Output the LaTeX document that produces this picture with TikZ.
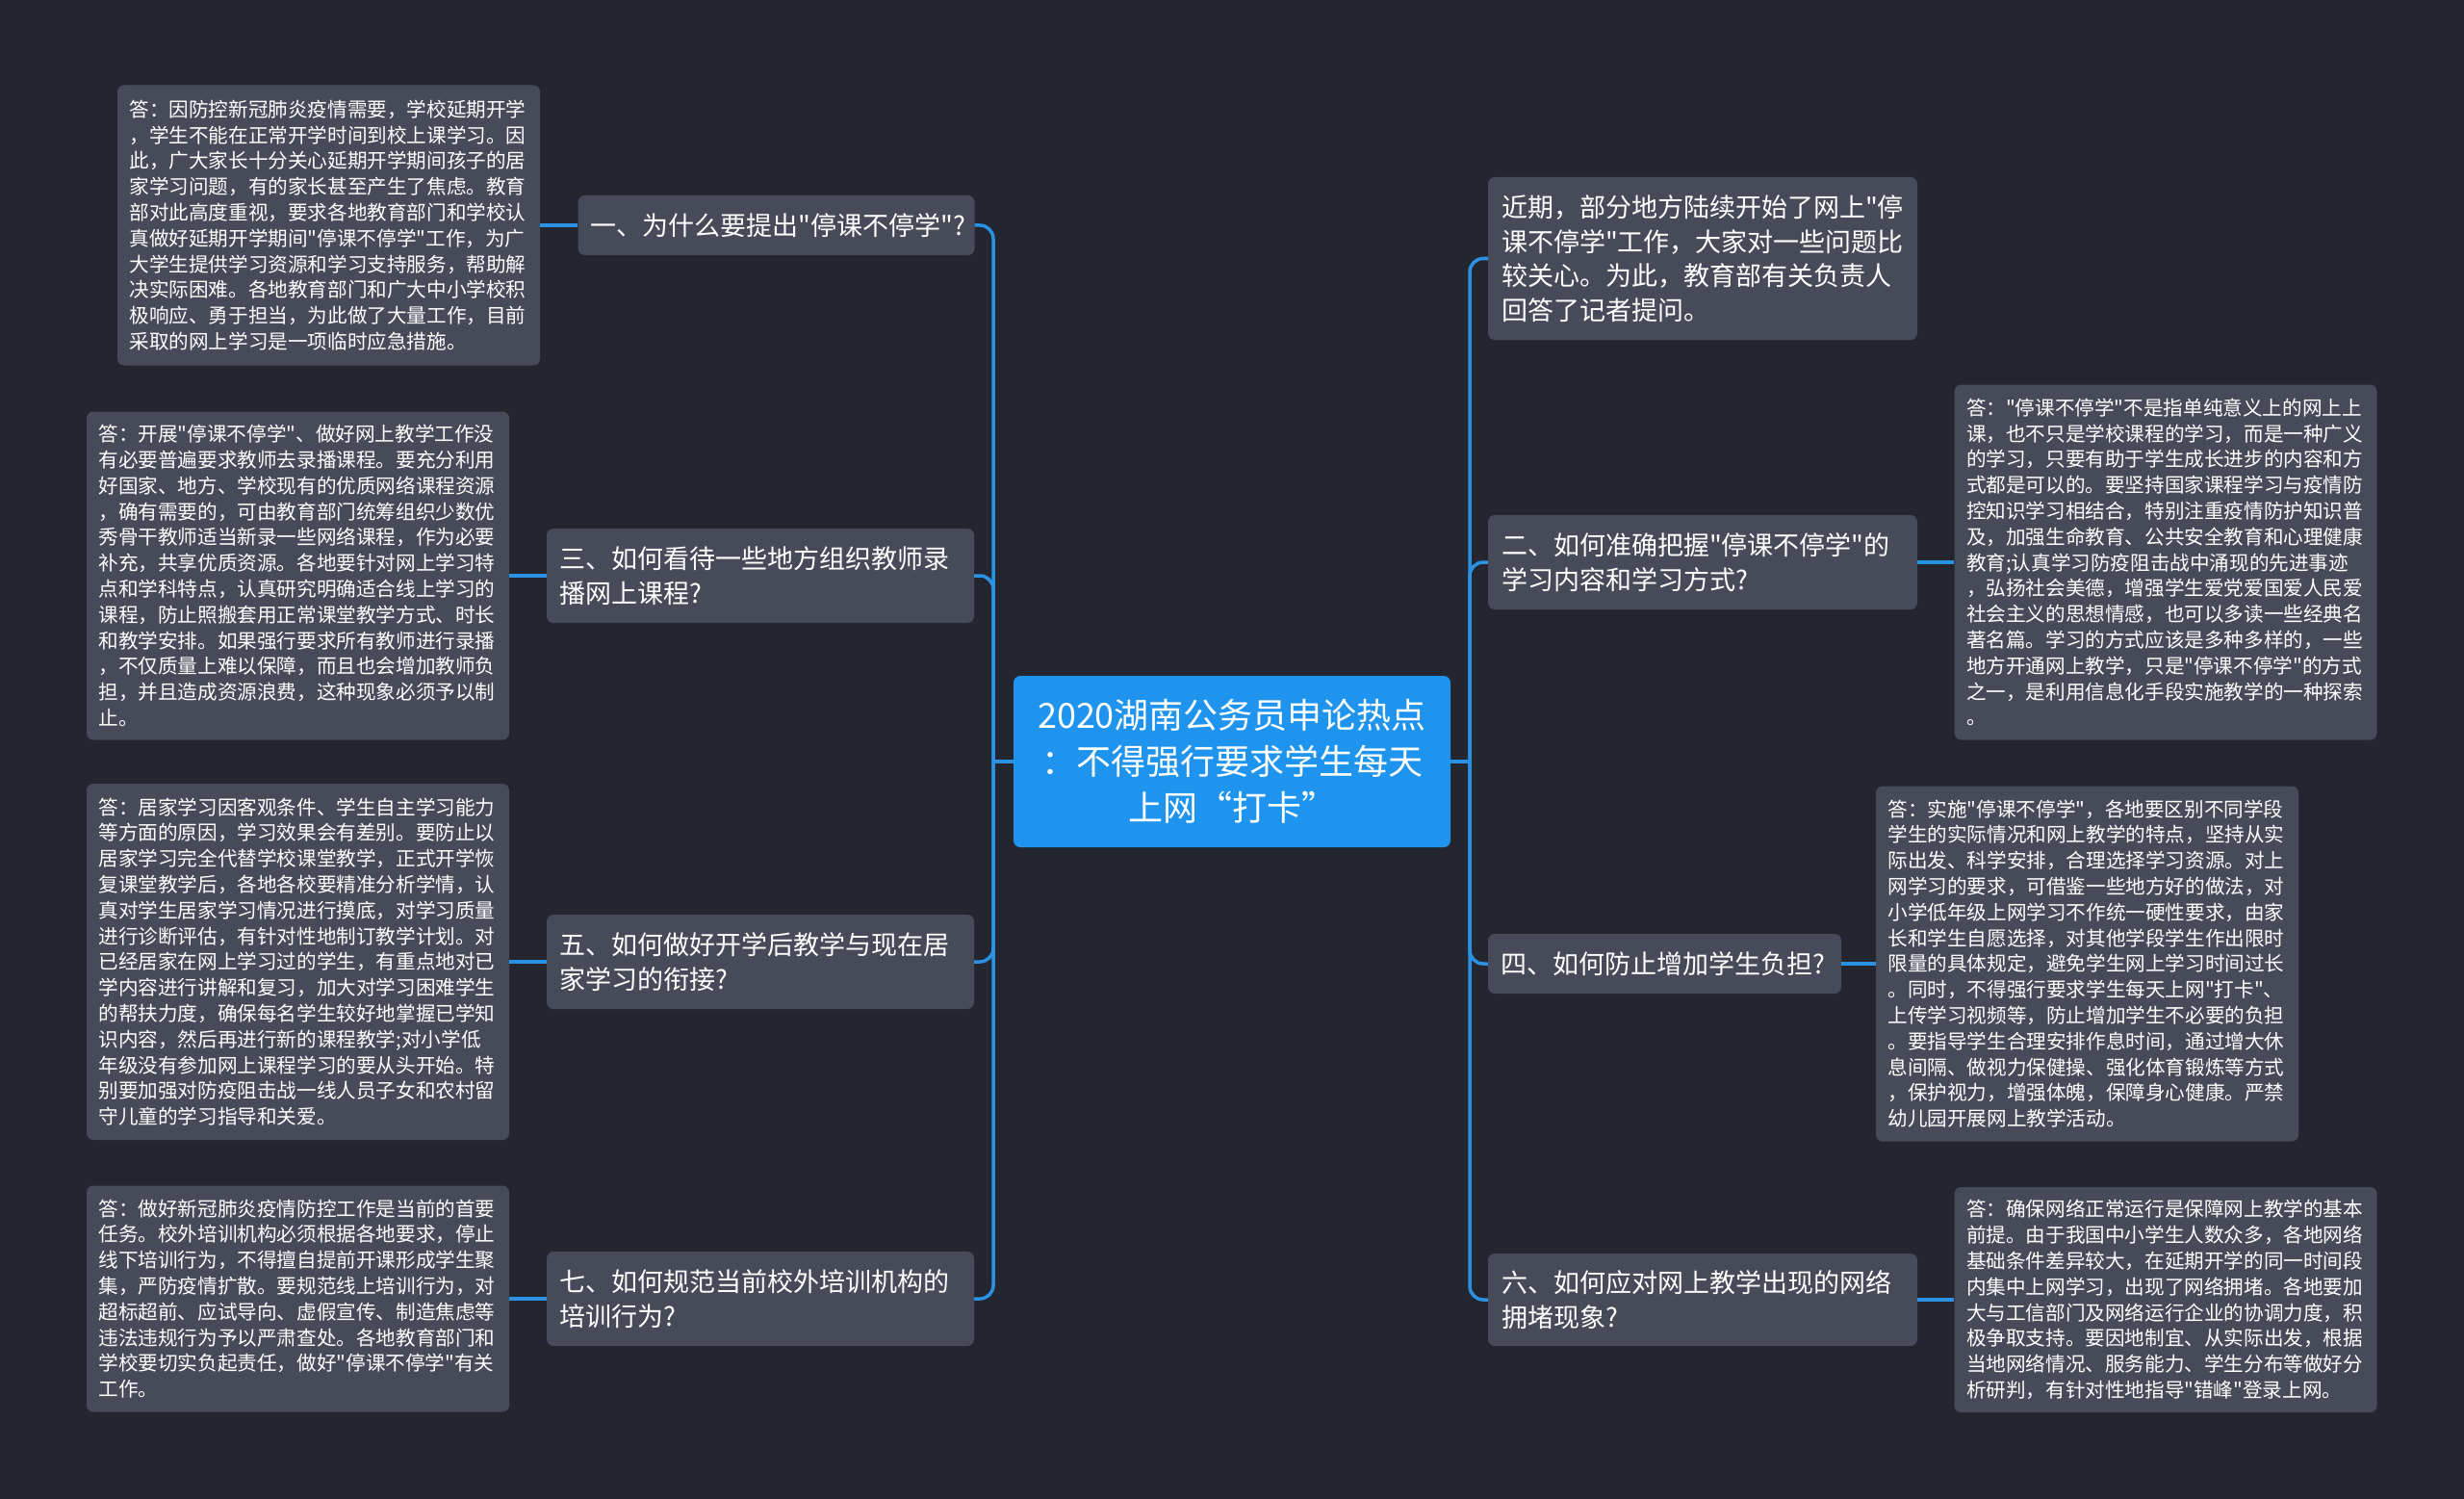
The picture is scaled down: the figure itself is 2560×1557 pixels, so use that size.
\documentclass[tikz,border=0pt]{standalone}
\usepackage{fontspec}
\setmainfont{Noto Sans CJK SC}[Ligatures=TeXOff]
\definecolor{bgc}{HTML}{23262F}
\definecolor{nodefill}{HTML}{474B59}
\definecolor{centerfill}{HTML}{1E94EE}
\definecolor{linec}{HTML}{2B91E3}
\tikzset{
  basebox/.style={draw=none, rounded corners=7pt, text=white, inner xsep=0pt, inner ysep=0pt, anchor=center},
  leafbox/.style={basebox, fill=nodefill, minimum width=439pt, text width=414pt, align=left,
    font=\fontsize{20.6pt}{26.8pt}\selectfont},
  branchbox/.style={basebox, fill=nodefill, align=left, font=\fontsize{27pt}{35.5pt}\selectfont},
  centerbox/.style={basebox, fill=centerfill, minimum width=454pt, minimum height=178pt, text width=424pt,
    align=center, font=\fontsize{36pt}{48pt}\selectfont},
  conn/.style={draw=linec, line width=3.5pt},
}
\begin{document}
\begin{tikzpicture}[x=1pt,y=-1pt]
\fill[bgc] (0,0) rectangle (2560,1557);
\useasboundingbox (0,0) rectangle (2560,1557);

% center
\node[centerbox] (c) at (1280,791) {2020湖南公务员申论热点\\：不得强行要求学生每天\\上网“打卡”};

% left branches
\node[branchbox, minimum width=412pt, minimum height=62pt, text width=386pt] (b1) at (806.5,234) {一、为什么要提出"停课不停学"?};
\node[branchbox, minimum width=444pt, minimum height=98pt, text width=418pt] (b3) at (790,598) {三、如何看待一些地方组织教师录\\播网上课程?};
\node[branchbox, minimum width=444pt, minimum height=98pt, text width=418pt] (b5) at (790,999) {五、如何做好开学后教学与现在居\\家学习的衔接?};
\node[branchbox, minimum width=444pt, minimum height=98pt, text width=418pt] (b7) at (790,1349) {七、如何规范当前校外培训机构的\\培训行为?};

% right branches
\node[branchbox, minimum width=446pt, minimum height=169pt, text width=418pt] (r0) at (1769,268.5) {近期，部分地方陆续开始了网上"停\\课不停学"工作，大家对一些问题比\\较关心。为此，教育部有关负责人\\回答了记者提问。};
\node[branchbox, minimum width=446pt, minimum height=98pt, text width=418pt] (b2) at (1769,584) {二、如何准确把握"停课不停学"的\\学习内容和学习方式?};
\node[branchbox, minimum width=367pt, minimum height=62pt, text width=341pt] (b4) at (1729.5,1001) {四、如何防止增加学生负担?};
\node[branchbox, minimum width=446pt, minimum height=96pt, text width=418pt] (b6) at (1769,1350) {六、如何应对网上教学出现的网络\\拥堵现象?};

% left leaves
\node[leafbox, minimum height=291pt] (a1) at (341.5,234) {答：因防控新冠肺炎疫情需要，学校延期开学\\，学生不能在正常开学时间到校上课学习。因\\此，广大家长十分关心延期开学期间孩子的居\\家学习问题，有的家长甚至产生了焦虑。教育\\部对此高度重视，要求各地教育部门和学校认\\真做好延期开学期间"停课不停学"工作，为广\\大学生提供学习资源和学习支持服务，帮助解\\决实际困难。各地教育部门和广大中小学校积\\极响应、勇于担当，为此做了大量工作，目前\\采取的网上学习是一项临时应急措施。};
\node[leafbox, minimum height=341pt] (a3) at (309.5,598) {答：开展"停课不停学"、做好网上教学工作没\\有必要普遍要求教师去录播课程。要充分利用\\好国家、地方、学校现有的优质网络课程资源\\，确有需要的，可由教育部门统筹组织少数优\\秀骨干教师适当新录一些网络课程，作为必要\\补充，共享优质资源。各地要针对网上学习特\\点和学科特点，认真研究明确适合线上学习的\\课程，防止照搬套用正常课堂教学方式、时长\\和教学安排。如果强行要求所有教师进行录播\\，不仅质量上难以保障，而且也会增加教师负\\担，并且造成资源浪费，这种现象必须予以制\\止。};
\node[leafbox, minimum height=370pt] (a5) at (309.5,999) {答：居家学习因客观条件、学生自主学习能力\\等方面的原因，学习效果会有差别。要防止以\\居家学习完全代替学校课堂教学，正式开学恢\\复课堂教学后，各地各校要精准分析学情，认\\真对学生居家学习情况进行摸底，对学习质量\\进行诊断评估，有针对性地制订教学计划。对\\已经居家在网上学习过的学生，有重点地对已\\学内容进行讲解和复习，加大对学习困难学生\\的帮扶力度，确保每名学生较好地掌握已学知\\识内容，然后再进行新的课程教学;对小学低\\年级没有参加网上课程学习的要从头开始。特\\别要加强对防疫阻击战一线人员子女和农村留\\守儿童的学习指导和关爱。};
\node[leafbox, minimum height=235pt] (a7) at (309.5,1349) {答：做好新冠肺炎疫情防控工作是当前的首要\\任务。校外培训机构必须根据各地要求，停止\\线下培训行为，不得擅自提前开课形成学生聚\\集，严防疫情扩散。要规范线上培训行为，对\\超标超前、应试导向、虚假宣传、制造焦虑等\\违法违规行为予以严肃查处。各地教育部门和\\学校要切实负起责任，做好"停课不停学"有关\\工作。};

% right leaves
\node[leafbox, minimum height=369pt] (a2) at (2250,584) {答："停课不停学"不是指单纯意义上的网上上\\课，也不只是学校课程的学习，而是一种广义\\的学习，只要有助于学生成长进步的内容和方\\式都是可以的。要坚持国家课程学习与疫情防\\控知识学习相结合，特别注重疫情防护知识普\\及，加强生命教育、公共安全教育和心理健康\\教育;认真学习防疫阻击战中涌现的先进事迹\\，弘扬社会美德，增强学生爱党爱国爱人民爱\\社会主义的思想情感，也可以多读一些经典名\\著名篇。学习的方式应该是多种多样的，一些\\地方开通网上教学，只是"停课不停学"的方式\\之一，是利用信息化手段实施教学的一种探索\\。};
\node[leafbox, minimum height=369pt] (a4) at (2168.5,1001) {答：实施"停课不停学"，各地要区别不同学段\\学生的实际情况和网上教学的特点，坚持从实\\际出发、科学安排，合理选择学习资源。对上\\网学习的要求，可借鉴一些地方好的做法，对\\小学低年级上网学习不作统一硬性要求，由家\\长和学生自愿选择，对其他学段学生作出限时\\限量的具体规定，避免学生网上学习时间过长\\。同时，不得强行要求学生每天上网"打卡"、\\上传学习视频等，防止增加学生不必要的负担\\。要指导学生合理安排作息时间，通过增大休\\息间隔、做视力保健操、强化体育锻炼等方式\\，保护视力，增强体魄，保障身心健康。严禁\\幼儿园开展网上教学活动。};
\node[leafbox, minimum height=234pt] (a6) at (2250,1350) {答：确保网络正常运行是保障网上教学的基本\\前提。由于我国中小学生人数众多，各地网络\\基础条件差异较大，在延期开学的同一时间段\\内集中上网学习，出现了网络拥堵。各地要加\\大与工信部门及网络运行企业的协调力度，积\\极争取支持。要因地制宜、从实际出发，根据\\当地网络情况、服务能力、学生分布等做好分\\析研判，有针对性地指导"错峰"登录上网。};

% connectors
\coordinate (jl) at (1032,791);
\coordinate (jr) at (1527,791);
\draw[conn] (c.west) -- (jl);
\draw[conn] (c.east) -- (jr);
\foreach \n in {b1,b3,b5,b7} \draw[conn, rounded corners=14pt] (jl) |- (\n.east);
\foreach \n in {r0,b2,b4,b6} \draw[conn, rounded corners=14pt] (jr) |- (\n.west);
\draw[conn] (b1.west) -- (a1.east);
\draw[conn] (b3.west) -- (a3.east);
\draw[conn] (b5.west) -- (a5.east);
\draw[conn] (b7.west) -- (a7.east);
\draw[conn] (b2.east) -- (a2.west);
\draw[conn] (b4.east) -- (a4.west);
\draw[conn] (b6.east) -- (a6.west);
\end{tikzpicture}
\end{document}
